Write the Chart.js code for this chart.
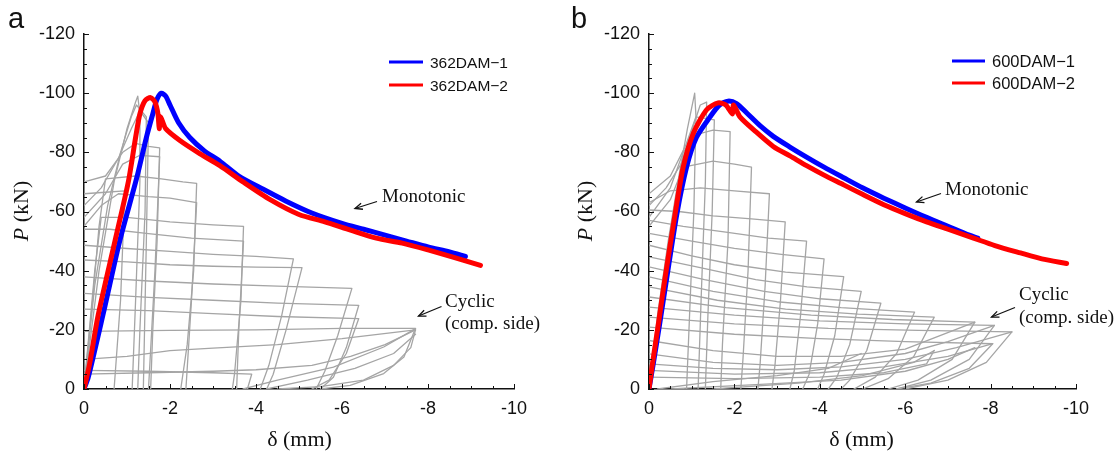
<!DOCTYPE html>
<html><head><meta charset="utf-8">
<script src="https://cdn.jsdelivr.net/npm/chart.js@4.4.1/dist/chart.umd.min.js"></script>
<style>
html,body{margin:0;padding:0;background:#fff;width:1118px;height:455px;overflow:hidden;}
.panel{position:absolute;top:0;}
#ov{position:absolute;left:0;top:0;pointer-events:none;}
</style></head><body>
<div class="panel" style="left:0;width:560px;height:455px"><canvas id="ca" width="560" height="455"></canvas></div>
<div class="panel" style="left:560px;width:558px;height:455px"><canvas id="cb" width="558" height="455"></canvas></div>
<svg id="ov" width="1118" height="455" xmlns="http://www.w3.org/2000/svg">
  <g font-family="'Liberation Sans', Arial, sans-serif" fill="#111">
    <text x="8" y="28" font-size="29">a</text>
    <text x="571" y="28" font-size="29">b</text>
  </g>
  <g font-family="'Liberation Serif', 'Times New Roman', serif" font-size="22" fill="#111">
    <text transform="translate(28,211) rotate(-90)" text-anchor="middle"><tspan font-style="italic">P</tspan> (kN)</text>
    <text transform="translate(592,211) rotate(-90)" text-anchor="middle"><tspan font-style="italic">P</tspan> (kN)</text>
    <text x="299.5" y="446" text-anchor="middle">δ (mm)</text>
    <text x="861.5" y="446" text-anchor="middle">δ (mm)</text>
  </g>
  <g font-family="'Liberation Serif', 'Times New Roman', serif" font-size="19" fill="#111">
    <text x="382" y="202">Monotonic</text>
    <text x="445" y="307">Cyclic</text>
    <text x="445" y="329">(comp. side)</text>
    <text x="945" y="195">Monotonic</text>
    <text x="1019" y="300">Cyclic</text>
    <text x="1019" y="322.5">(comp. side)</text>
  </g>
  <g id="arrows" stroke="#111" stroke-width="1.3" fill="none"></g>
  <g id="legA"></g>
  <g id="legB"></g>
</svg>
<script>
// ---------- data ----------
const deltaTicks = [0, -2, -4, -6, -8, -10];
const loadTicks = [0, -20, -40, -60, -80, -100, -120];
const seriesNamesA = ['362DAM\u22121', '362DAM\u22122'];
const seriesNamesB = ['600DAM\u22121', '600DAM\u22122'];

const mono362_1 = [[0,0],[-0.1,-4],[-0.44,-25],[-0.83,-50],[-1.22,-71],[-1.45,-85],[-1.6,-93],[-1.7,-98],[-1.8,-100],[-1.9,-99],[-2.0,-96],[-2.2,-90],[-2.46,-85],[-2.8,-80.5],[-3.16,-77],[-3.6,-72],[-4.17,-67.5],[-4.7,-63.5],[-5.3,-59.5],[-6.0,-56],[-6.5,-54],[-7.0,-52],[-7.5,-50],[-8.0,-48],[-8.5,-46.3],[-8.87,-44.8]];
const mono362_2 = [[0,0],[-0.13,-8.5],[-0.33,-25],[-0.72,-50],[-1.03,-70],[-1.2,-85],[-1.3,-93],[-1.42,-97.5],[-1.55,-98.5],[-1.65,-97],[-1.72,-93],[-1.75,-88],[-1.78,-92],[-1.9,-88],[-2.23,-84],[-2.7,-79.5],[-3.16,-75.5],[-3.7,-70],[-4.33,-64],[-5.0,-59],[-5.6,-56.5],[-6.2,-53.7],[-6.8,-51],[-7.4,-49.3],[-8.0,-47],[-8.6,-44.5],[-9.22,-41.8]];
const mono600_1 = [[0,0],[-0.1,-8.5],[-0.25,-22],[-0.41,-37],[-0.65,-59],[-0.88,-75],[-1.11,-85],[-1.43,-92],[-1.65,-96],[-1.85,-97.3],[-2.05,-96.5],[-2.29,-93.3],[-2.6,-89],[-2.91,-85.4],[-3.3,-81.8],[-3.69,-78.4],[-4.1,-75],[-4.56,-71.4],[-5.0,-68],[-5.5,-64.5],[-6.0,-61.2],[-6.5,-58],[-7.0,-55],[-7.5,-52],[-7.7,-51]];
const mono600_2 = [[0,0],[-0.08,-8.5],[-0.22,-22],[-0.37,-37],[-0.61,-59],[-0.8,-75],[-1.04,-86.5],[-1.35,-94.4],[-1.62,-96.7],[-1.8,-96],[-1.95,-93],[-1.98,-96],[-2.13,-92],[-2.5,-87],[-2.91,-82],[-3.3,-78.8],[-3.69,-75.5],[-4.1,-72.3],[-4.56,-69],[-5.0,-65.8],[-5.5,-62.3],[-6.0,-59.3],[-6.5,-56.5],[-7.0,-54],[-7.6,-51],[-8.1,-48.5],[-8.7,-46],[-9.2,-44],[-9.78,-42.4]];

const cyclic362 = [
 [[0,0],[-0.35,-40],[-0.7,-70],[-1.0,-88],[-1.2,-97],[-1.25,-99],[-1.3,-93],[-1.3,-70],[-1.2,-30],[-1.12,0]],
 [[0,0],[-0.25,-35],[-0.55,-62],[-0.85,-80],[-1.1,-92],[-1.22,-96],[-1.45,-92],[-1.42,-60],[-1.3,-20],[-1.25,0]],
 [[0,-62],[-0.4,-68],[-0.8,-78],[-1.1,-88],[-1.3,-94],[-1.5,-90],[-1.45,-50],[-1.38,0]],
 [[0,-70],[-0.5,-72],[-0.9,-80],[-1.2,-83],[-1.5,-82],[-1.76,-81.5],[-1.7,-50],[-1.6,-20],[-1.55,0]],
 [[0,-58],[-0.5,-66],[-0.9,-76],[-1.3,-79],[-1.76,-78.5],[-1.65,-40],[-1.5,0]],
 [[0,-66],[-0.5,-66.5],[-0.95,-67],[-0.85,-30],[-0.7,0]],
 [[0,0],[-0.2,-30],[-0.35,-55],[-0.5,-71],[-1.2,-72],[-1.8,-71],[-2.3,-70],[-2.62,-69.5],[-2.55,-40],[-2.4,-15],[-2.25,0]],
 [[0,-55],[-0.4,-62],[-0.8,-66],[-1.5,-65],[-2.0,-64.5],[-2.62,-63],[-2.5,-30],[-2.37,0]],
 [[0,0],[-0.25,-40],[-0.4,-58],[-1.0,-58],[-2.0,-56.5],[-3.0,-55.5],[-3.71,-55],[-3.65,-30],[-3.5,-5],[-3.45,0]],
 [[0,-54],[-0.6,-54],[-1.5,-52.5],[-2.5,-51],[-3.71,-50],[-3.6,-20],[-3.55,0]],
 [[0,-48.6],[-1,-47.5],[-2,-46.5],[-3,-45.5],[-4,-44.8],[-4.87,-44],[-4.6,-25],[-4.3,-8],[-4.1,0]],
 [[0,-43.6],[-1,-43],[-2,-42],[-3,-41.5],[-4,-41.2],[-5.07,-41],[-4.7,-20],[-4.4,-5],[-4.25,0]],
 [[0,-37.9],[-1.5,-36.5],[-3,-35.5],[-4.5,-34.8],[-6.23,-34],[-5.9,-18],[-5.6,-6],[-5.4,0]],
 [[0,-32.3],[-1.5,-31],[-3,-30],[-4.5,-29],[-6.39,-28.3],[-6.1,-14],[-5.8,-4],[-5.5,0]],
 [[0,-27],[-1.5,-26.5],[-3,-25.5],[-4.5,-24.5],[-6.39,-23.8],[-6.1,-12],[-5.7,-3],[-5.3,0]],
 [[0,-19.5],[-2,-19.8],[-4,-20],[-6,-20.5],[-7.71,-20.5],[-7.44,-10.8],[-6.97,-5.2],[-6.19,-1.2],[-5.5,0]],
 [[0,-10],[-1,-11],[-2,-13],[-3,-13.8],[-4.5,-15],[-6,-17],[-7.71,-20],[-7.6,-14],[-7.2,-8],[-6.5,-3],[-5.5,-0.8],[-4.5,0]],
 [[0,-5],[-1.5,-5.5],[-3,-6],[-4,-6.5],[-5.3,-8],[-6.2,-11],[-7,-15],[-7.71,-20]],
 [[0,-6.3],[-1.5,-6],[-3,-5.5],[-3.9,-5],[-3.8,0]],
 [[-3.7,0],[-4.5,-3],[-5.8,-7.4],[-6.97,-14.2],[-7.71,-20.4]],
 [[-4.25,0],[-5.2,-3],[-6.3,-7],[-7.2,-12],[-7.71,-18.5]]
];

const cyclic600 = [
 [[0,0],[-0.2,-25],[-0.45,-50],[-0.7,-72],[-0.9,-88],[-1.07,-100],[-1.1,-92],[-1.05,-60],[-0.95,-25],[-0.88,0]],
 [[0,-62],[-0.4,-68],[-0.75,-76],[-0.95,-85],[-1.2,-96],[-1.35,-97],[-1.32,-70],[-1.22,-30],[-1.15,0]],
 [[0,-66],[-0.5,-72],[-0.85,-82],[-1.1,-92],[-1.53,-91],[-1.48,-60],[-1.38,-25],[-1.32,0]],
 [[0,-58],[-0.5,-68],[-0.8,-80],[-1.1,-86],[-1.5,-87.5],[-1.9,-87],[-1.85,-50],[-1.72,-15],[-1.68,0]],
 [[0,-55],[-0.5,-64],[-0.8,-75],[-1.5,-77],[-2.0,-76],[-2.4,-75],[-2.32,-40],[-2.2,-10],[-2.15,0]],
 [[0,-63],[-0.5,-67],[-1.2,-68],[-2.0,-67],[-2.82,-66],[-2.72,-35],[-2.6,-8],[-2.55,0]],
 [[0,-60.5],[-0.7,-60],[-1.5,-58.5],[-2.4,-57.5],[-3.19,-56.5],[-3.08,-30],[-2.95,-8],[-2.88,0]],
 [[0,-57],[-0.8,-55],[-1.8,-53],[-2.8,-51],[-3.69,-50],[-3.55,-25],[-3.4,-6],[-3.3,0]],
 [[0,-52.6],[-1,-50],[-2,-47.5],[-3.1,-45.5],[-4.1,-44],[-3.95,-22],[-3.75,-5],[-3.6,0]],
 [[0,-48.6],[-1,-45],[-2,-42],[-3.2,-39.5],[-4.56,-38],[-4.35,-18],[-4.1,-5],[-3.95,0]],
 [[0,-44.7],[-1.2,-41],[-2.5,-37],[-3.7,-34.5],[-4.97,-33],[-4.7,-15],[-4.4,-4],[-4.2,0]],
 [[0,-41.3],[-1.3,-37],[-2.7,-33],[-4,-30.5],[-5.43,-29],[-5.1,-13],[-4.7,-3],[-4.5,0]],
 [[0,-37.9],[-1.5,-33],[-3,-29.5],[-4.5,-27.5],[-6.22,-26],[-5.8,-12],[-5.3,-4],[-4.8,0]],
 [[0,-34.5],[-1.6,-30],[-3.2,-27],[-4.9,-25.3],[-6.68,-24.3],[-6.2,-11],[-5.6,-3.5],[-5,0]],
 [[0,-31.1],[-1.8,-27.5],[-3.8,-25],[-5.7,-23.5],[-7.63,-22.6],[-7.1,-10],[-6.3,-3],[-5.6,0]],
 [[0,-27.7],[-2,-25],[-4,-23],[-6,-22],[-8.09,-21.5],[-7.5,-10],[-6.6,-3],[-5.8,0]],
 [[0,-24.3],[-2,-22],[-4.2,-20.5],[-6.3,-19.8],[-8.5,-19.3],[-7.9,-9],[-7,-3],[-6,0]],
 [[0,-20.9],[-2,-18.5],[-4,-17],[-6,-16],[-8.05,-15.3],[-7.5,-7],[-6.6,-2],[-5.8,0]],
 [[0,-16.4],[-1.5,-13],[-3,-11],[-4.5,-11],[-6,-13.5],[-7.63,-22.6]],
 [[0,-11.9],[-1.5,-9],[-3,-8],[-4.5,-9],[-6,-12],[-7,-16],[-8.09,-21.5]],
 [[0,-8.5],[-1.5,-7],[-3,-6.5],[-4.5,-7.5],[-6,-10],[-7.2,-14],[-8.5,-19.3]],
 [[0,-6.3],[-2,-5],[-4,-5.5],[-5.5,-7.5],[-7,-11],[-8.05,-15.3]],
 [[0,-4],[-2,-3.5],[-4,-4],[-5.5,-5.5],[-6.5,-8.5],[-6.68,-13]],
 [[-0.5,0],[-2.5,-1.5],[-4.5,-3],[-6,-6],[-7,-10],[-7.63,-14]],
 [[-1.5,0],[-3.5,-2],[-5,-4.5],[-6.2,-9],[-6.68,-13]],
 [[-0.2,0],[-1.5,-2.5],[-3,-4.5],[-4.2,-7],[-4.97,-12]]
];

// ---------- helpers ----------
const GREY = 'rgb(165,165,165)';
const BLUE = '#0000ff';
const RED = '#ff0000';
const toXY = arr => arr.map(p => ({x: p[0], y: p[1]}));

const axisPlugin = {
  id: 'inwardTicks',
  afterDraw(chart) {
    const {ctx, chartArea: ca, scales: {x, y}} = chart;
    ctx.save();
    ctx.strokeStyle = '#111';
    ctx.lineWidth = 1;
    for (let v = 0; v >= -10; v -= 0.5) {
      const px = Math.round(x.getPixelForValue(v)) + 0.5;
      const len = (Math.abs(v % 2) < 1e-6) ? 5 : 3;
      ctx.beginPath(); ctx.moveTo(px, ca.bottom); ctx.lineTo(px, ca.bottom - len); ctx.stroke();
    }
    for (let v = 0; v >= -120; v -= 5) {
      const py = Math.round(y.getPixelForValue(v)) + 0.5;
      const len = (Math.abs(v % 20) < 1e-6) ? 5 : 3;
      ctx.beginPath(); ctx.moveTo(ca.left, py); ctx.lineTo(ca.left + len, py); ctx.stroke();
    }
    ctx.restore();
  }
};

function makeChart(canvasId, mono1, mono2, cyclic, yWidth, padRight) {
  const datasets = [
    {data: toXY(mono2), borderColor: RED, borderWidth: 5, order: 0, tension: 0.25},
    {data: toXY(mono1), borderColor: BLUE, borderWidth: 5, order: 1, tension: 0.25},
  ];
  cyclic.forEach(loop => datasets.push({data: toXY(loop), borderColor: GREY, borderWidth: 1.3, order: 2, tension: 0}));
  datasets.forEach(d => { d.showLine = true; d.pointRadius = 0; d.borderJoinStyle = 'round'; d.borderCapStyle = 'round'; d.fill = false; });
  return new Chart(document.getElementById(canvasId), {
    type: 'scatter',
    data: {datasets},
    options: {
      responsive: false, animation: false, devicePixelRatio: 1, events: [],
      layout: {padding: {left: 0, top: 34, right: padRight, bottom: 0}},
      plugins: {legend: {display: false}, tooltip: {enabled: false}},
      scales: {
        x: {
          type: 'linear', min: -10, max: 0, reverse: true,
          afterBuildTicks: s => { s.ticks = deltaTicks.map(v => ({value: v})); },
          afterFit: s => { s.height = 66; },
          grid: {display: false, drawTicks: false},
          border: {display: true, color: '#111', width: 1.5},
          ticks: {padding: 9, color: '#111', font: {family: "'Liberation Sans', Arial, sans-serif", size: 18}, callback: v => String(v), maxRotation: 0}
        },
        y: {
          type: 'linear', min: -120, max: 0, reverse: true,
          afterBuildTicks: s => { s.ticks = loadTicks.map(v => ({value: v})); },
          afterFit: s => { s.width = yWidth; },
          grid: {display: false, drawTicks: false},
          border: {display: true, color: '#111', width: 1.5},
          ticks: {padding: 9, color: '#111', font: {family: "'Liberation Sans', Arial, sans-serif", size: 18}, callback: v => String(v)}
        }
      }
    },
    plugins: [axisPlugin]
  });
}

makeChart('ca', mono362_1, mono362_2, cyclic362, 84, 46);
makeChart('cb', mono600_1, mono600_2, cyclic600, 89, 42);

// ---------- legends & arrows (overlay) ----------
const NS = 'http://www.w3.org/2000/svg';
function el(parent, name, attrs, text) {
  const e = document.createElementNS(NS, name);
  for (const k in attrs) e.setAttribute(k, attrs[k]);
  if (text !== undefined) e.textContent = text;
  parent.appendChild(e); return e;
}
function legend(gid, names, x0, x1, xt, rows, fs) {
  const g = document.getElementById(gid);
  [BLUE, RED].forEach((c, i) => {
    el(g, 'line', {x1: x0, x2: x1, y1: rows[i], y2: rows[i], stroke: c, 'stroke-width': 3});
    el(g, 'text', {x: xt, y: rows[i] + fs * 0.36, 'font-size': fs, 'font-family': "'Liberation Sans', Arial, sans-serif", fill: '#111'}, names[i]);
  });
}
legend('legA', seriesNamesA, 389, 423, 430, [62, 85], 15.5);
legend('legB', seriesNamesB, 952, 985, 992, [61, 83], 16.5);

function arrow(x1, y1, x2, y2) {
  const g = document.getElementById('arrows');
  el(g, 'line', {x1, y1, x2, y2});
  const a = Math.atan2(y2 - y1, x2 - x1), L = 8, s = 0.4;
  const p1 = [x2 - L * Math.cos(a - s), y2 - L * Math.sin(a - s)];
  const p2 = [x2 - L * Math.cos(a + s), y2 - L * Math.sin(a + s)];
  el(g, 'polyline', {points: `${p1[0]},${p1[1]} ${x2},${y2} ${p2[0]},${p2[1]}`});
}
arrow(377, 201.5, 355, 208.5);
arrow(441.5, 306.5, 418.5, 316);
arrow(941, 193.5, 916.5, 202);
arrow(1015, 307.5, 991.5, 317);
</script>
</body></html>
